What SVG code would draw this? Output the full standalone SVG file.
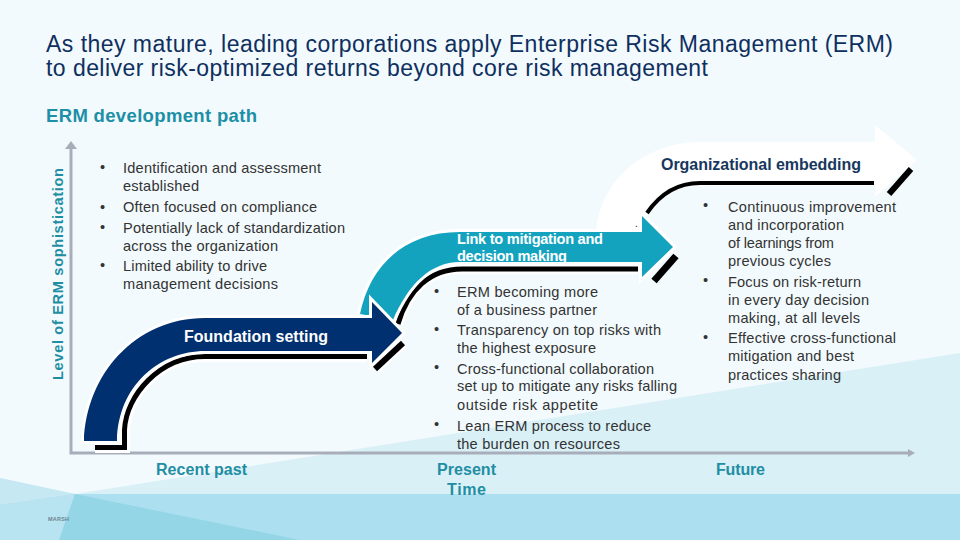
<svg xmlns="http://www.w3.org/2000/svg" width="960" height="540" viewBox="0 0 960 540">
<style>
text{font-family:"Liberation Sans",Arial,sans-serif}
.b{font-size:14.6px;fill:#333}
.h{font-size:16px;font-weight:bold}
.t{font-size:16px;font-weight:bold;fill:#1f8ea3}
.o{stroke:#fff;stroke-width:6;stroke-linejoin:miter;paint-order:stroke}
.ax{stroke:#a9adb9;stroke-width:3;fill:none}
</style>
<rect width="960" height="540" fill="#f2fafd"/>
<g id="background">
<polygon points="75,494 960,353 960,540 0,540 0,478" fill="#d9f0f7"/>
<rect x="0" y="494" width="960" height="46" fill="#acdfef"/>
<polygon points="0,478 75,494 0,505" fill="#c6e8f2"/>
<polygon points="0,505 75,494 59,540 0,540" fill="#b8e3f0"/>
<polygon points="75,494 300,540 59,540" fill="#94d6e6"/>
</g>
<g id="axes">
<path class="ax" d="M71 146V453H908"/>
<path d="M71 141L65 149H77z" fill="#a9adb9"/>
<path d="M915 453L908 449V457z" fill="#a9adb9"/>
</g>
<g id="arrow-organizational">
<path d="M596 232C600 180 645 142 700 142H875V125L917 160L875 197V186H700C680 186 660 195 648 215L640 232z" fill="#fff"/>
<path d="M647 213C660 194 678 183 700 183H874" fill="none" stroke="#000" stroke-width="4"/>
<path d="M889 194L911 169" stroke="#000" stroke-width="6" fill="none"/>
<text x="661" y="170" class="h" fill="#17375e" textLength="200">Organizational embedding</text>
<text x="635" y="227" font-size="10" fill="#222">.</text>
</g>
<g id="arrow-link">
<path d="M398 324C408 290 430 269 462 269H638" fill="none" stroke="#fff" stroke-width="10"/>
<path d="M398 324C408 290 430 269 462 269H638" fill="none" stroke="#000" stroke-width="5"/>
<path d="M654 281L676 256" stroke="#000" stroke-width="7" fill="none"/>
<path class="o" d="M360 314C370 265 405 232 460 232H642V216L673 247L642 277V262H460C430 262 408 285 393 320z" fill="#13a3bf"/>
<text x="457" y="244" font-size="14.6" font-weight="bold" fill="#fff" textLength="146">Link to mitigation and</text>
<text x="457" y="261" font-size="14.6" font-weight="bold" fill="#fff" textLength="110">decision making</text>
</g>
<g id="arrow-foundation">
<path d="M95 447.500H124.500V430C126 395 160 356.500 205 356.500H367" fill="none" stroke="#fff" stroke-width="11"/>
<path d="M375 369L403 343" stroke="#fff" stroke-width="11" fill="none"/>
<path d="M95 447.500H124.500V430C126 395 160 356.500 205 356.500H367" fill="none" stroke="#000" stroke-width="5"/>
<path d="M375 369L403 343" stroke="#000" stroke-width="6" fill="none"/>
<path class="o" d="M84 441C86 375 135 318 205 318H372V302L402 333L372 363V351H205C160 351 118 385 117 441z" fill="#00306f"/>
<text x="184" y="342" font-size="16" font-weight="bold" fill="#fff" textLength="144">Foundation setting</text>
</g>
<g id="title">
<text x="46" y="52" font-size="23" fill="#0f2f5f" textLength="847">As they mature, leading corporations apply Enterprise Risk Management (ERM)</text>
<text x="46" y="76" font-size="23" fill="#0f2f5f" textLength="662">to deliver risk-optimized returns beyond core risk management</text>
<text x="46" y="122" font-size="18.500" font-weight="bold" fill="#1d8fa6" textLength="211">ERM development path</text>
</g>
<text transform="translate(63,380) rotate(-90)" font-size="14.6" font-weight="bold" fill="#1f8ea3" textLength="212">Level of ERM sophistication</text>
<g id="text-recent">
<text class="b" x="100" y="172">•</text><text class="b" x="123" y="173" textLength="198">Identification and assessment</text>
<text class="b" x="123" y="191" textLength="76">established</text>
<text class="b" x="100" y="212">•</text><text class="b" x="123" y="212" textLength="194">Often focused on compliance</text>
<text class="b" x="100" y="232">•</text><text class="b" x="123" y="233" textLength="222">Potentially lack of standardization</text>
<text class="b" x="123" y="251" textLength="155">across the organization</text>
<text class="b" x="100" y="270">•</text><text class="b" x="123" y="271" textLength="144">Limited ability to drive</text>
<text class="b" x="123" y="289" textLength="155">management decisions</text>
</g>
<g id="text-present">
<text class="b" x="434" y="296">•</text><text class="b" x="457" y="297" textLength="141">ERM becoming more</text>
<text class="b" x="457" y="315" textLength="140">of a business partner</text>
<text class="b" x="434" y="334">•</text><text class="b" x="457" y="335" textLength="204">Transparency on top risks with</text>
<text class="b" x="457" y="353" textLength="139">the highest exposure</text>
<text class="b" x="434" y="372">•</text><text class="b" x="457" y="374" textLength="197">Cross-functional collaboration</text>
<text class="b" x="457" y="391" textLength="220">set up to mitigate any risks falling</text>
<text class="b" x="457" y="410" textLength="141">outside risk appetite</text>
<text class="b" x="434" y="429">•</text><text class="b" x="457" y="431" textLength="194">Lean ERM process to reduce</text>
<text class="b" x="457" y="449" textLength="163">the burden on resources</text>
</g>
<g id="text-future">
<text class="b" x="703" y="210">•</text><text class="b" x="728" y="212" textLength="168">Continuous improvement</text>
<text class="b" x="728" y="230" textLength="116">and incorporation</text>
<text class="b" x="728" y="248" textLength="106">of learnings from</text>
<text class="b" x="728" y="266" textLength="103">previous cycles</text>
<text class="b" x="703" y="285">•</text><text class="b" x="728" y="287" textLength="133">Focus on risk-return</text>
<text class="b" x="728" y="305" textLength="141">in every day decision</text>
<text class="b" x="728" y="323" textLength="132">making, at all levels</text>
<text class="b" x="703" y="342">•</text><text class="b" x="728" y="343" textLength="168">Effective cross-functional</text>
<text class="b" x="728" y="361" textLength="126">mitigation and best</text>
<text class="b" x="728" y="380" textLength="113">practices sharing</text>
</g>
<g id="time-labels">
<text class="t" x="156" y="475" textLength="91">Recent past</text>
<text class="t" x="437" y="475" textLength="59">Present</text>
<text class="t" x="447" y="495" textLength="39">Time</text>
<text class="t" x="716" y="475" textLength="49">Future</text>
</g>
<text x="48" y="521" font-size="5.500" font-weight="bold" fill="#6b8593" textLength="21">MARSH</text>
</svg>
